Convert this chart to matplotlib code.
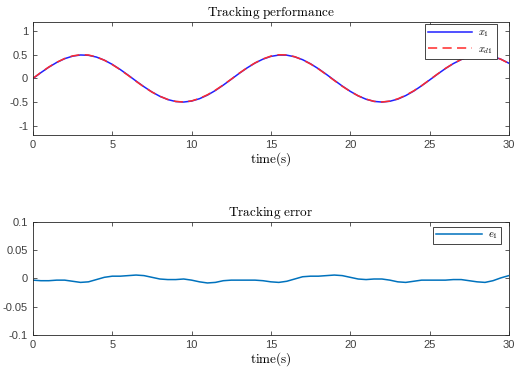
import numpy as np
import matplotlib.pyplot as plt

plt.rcParams['font.family'] = ['Liberation Sans', 'DejaVu Sans']
plt.rcParams['mathtext.fontset'] = 'cm'
plt.rcParams['axes.unicode_minus'] = False

# time axis (s), read every 0.5 s
t = np.arange(0, 30.01, 0.5)

# x1
x1 = [0.000, 0.124, 0.240, 0.341, 0.421, 0.474, 0.499, 0.492, 0.455, 0.389,
      0.299, 0.191, 0.071, -0.054, -0.175, -0.286, -0.378, -0.447, -0.489, -0.500,
      -0.479, -0.429, -0.353, -0.255, -0.140, -0.017, 0.108, 0.225, 0.328, 0.411,
      0.469, 0.497, 0.495, 0.461, 0.399, 0.312, 0.206, 0.087, -0.038, -0.160,
      -0.272, -0.368, -0.440, -0.486, -0.500, -0.483, -0.438, -0.363, -0.268, -0.155,
      -0.033, 0.091, 0.210, 0.316, 0.402, 0.464, 0.495, 0.497, 0.468, 0.409,
      0.325]

# desired trajectory xd1 (overlaps x1 in the picture)
xd1 = [0.003, 0.128, 0.244, 0.344, 0.424, 0.479, 0.506, 0.498, 0.457, 0.387,
       0.295, 0.187, 0.066, -0.060, -0.180, -0.288, -0.377, -0.445, -0.487, -0.499,
       -0.476, -0.423, -0.345, -0.248, -0.136, -0.014, 0.111, 0.228, 0.331, 0.415,
       0.475, 0.504, 0.500, 0.462, 0.396, 0.308, 0.202, 0.082, -0.044, -0.165,
       -0.274, -0.367, -0.438, -0.485, -0.499, -0.480, -0.432, -0.356, -0.263, -0.152,
       -0.030, 0.094, 0.213, 0.318, 0.404, 0.468, 0.501, 0.504, 0.472, 0.408,
       0.320]

# tracking error e1
e1 = [-0.003, -0.004, -0.004, -0.003, -0.003, -0.005, -0.007, -0.006, -0.002, 0.002,
      0.004, 0.004, 0.005, 0.006, 0.005, 0.002, -0.001, -0.002, -0.002, -0.001,
      -0.003, -0.006, -0.008, -0.007, -0.004, -0.003, -0.003, -0.003, -0.003, -0.004,
      -0.006, -0.007, -0.005, -0.001, 0.003, 0.004, 0.004, 0.005, 0.006, 0.005,
      0.002, -0.001, -0.002, -0.001, -0.001, -0.003, -0.006, -0.007, -0.005, -0.003,
      -0.003, -0.003, -0.003, -0.002, -0.002, -0.004, -0.006, -0.007, -0.004, 0.001,
      0.005]

xticks = [0, 5, 10, 15, 20, 25, 30]
yticks1 = [-1, -0.5, 0, 0.5, 1]
yticks2 = [-0.1, -0.05, 0, 0.05, 0.1]

fig = plt.figure(figsize=(5.15, 3.72), dpi=100)
ax1 = fig.add_axes([0.064, 0.637, 0.924, 0.304])
ax2 = fig.add_axes([0.064, 0.0995, 0.924, 0.304])

ax1.plot(t, x1, color='#2020ff', lw=1.1, label='$x_1$')
ax1.plot(t, xd1, color='#ff2a2a', lw=1.1, ls=(0, (6, 3.5)), label='$x_{d1}$')
ax1.set_ylim(-1.2, 1.2)
ax1.set_yticks(yticks1)
ax1.set_yticklabels(['-1', '-0.5', '0', '0.5', '1'])
ax1.set_title(r'$\mathrm{Tracking\ performance}$', fontsize=9.5, pad=4.5)

ax2.plot(t, e1, color='#0072BD', lw=1.1, label='$e_1$')
ax2.set_ylim(-0.1, 0.1)
ax2.set_yticks(yticks2)
ax2.set_yticklabels(['-0.1', '-0.05', '0', '0.05', '0.1'])
ax2.set_title(r'$\mathrm{Tracking\ error}$', fontsize=9.5, pad=4.5)

for ax in (ax1, ax2):
    ax.set_xlim(0, 30)
    ax.set_xticks(xticks)
    ax.set_xlabel(r'$\mathrm{time(s)}$', fontsize=9.5, labelpad=0.5)
    ax.tick_params(direction='in', length=3, width=0.6, top=True, right=True,
                   labelsize=8, colors='#404040', pad=3.5)
    for s in ax.spines.values():
        s.set_linewidth(0.6)
        s.set_color('#262626')

leg1 = ax1.legend(loc='upper right', bbox_to_anchor=(0.975, 0.985), fontsize=7.5,
                  fancybox=False, framealpha=1, handlelength=4.2, borderpad=0.35,
                  labelspacing=0.45, borderaxespad=0, handletextpad=0.6)
leg2 = ax2.legend(loc='upper right', bbox_to_anchor=(0.983, 0.958), fontsize=7.5,
                  fancybox=False, framealpha=1, handlelength=4.4, borderpad=0.25,
                  borderaxespad=0, handletextpad=0.6)
for leg in (leg1, leg2):
    leg.get_frame().set_edgecolor('#262626')
    leg.get_frame().set_linewidth(0.6)

fig.savefig('out.png', dpi=100)
